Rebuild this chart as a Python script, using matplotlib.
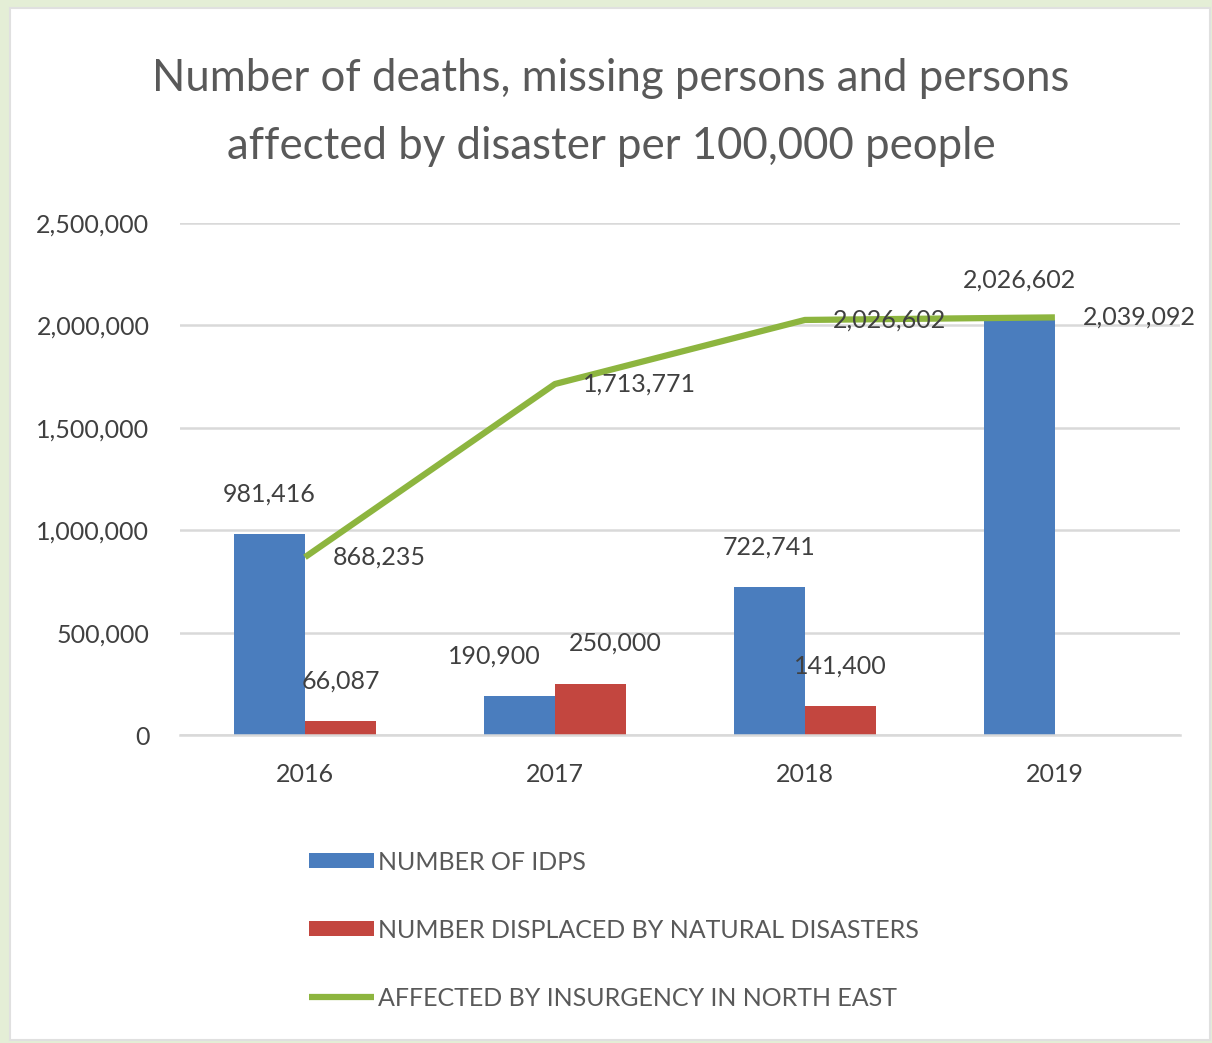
import matplotlib.pyplot as plt
import numpy as np
from matplotlib.patches import Rectangle
from matplotlib.ticker import FuncFormatter

plt.rcParams["font.family"] = ["Lato", "DejaVu Sans"]

years = ["2016", "2017", "2018", "2019"]
idps = [981416, 190900, 722741, 2026602]
natural = [66087, 250000, 141400, 0]
insurgency = [868235, 1713771, 2026602, 2039092]

series_names = [
    "NUMBER OF IDPS",
    "NUMBER DISPLACED BY NATURAL DISASTERS",
    "AFFECTED BY INSURGENCY IN NORTH EAST",
]

BLUE = "#4A7DBE"
RED = "#C3463F"
GREEN = "#8DB53F"
TEXT = "#404040"
GRID = "#D9D9D9"

# horizontal nudges (points) for the crowded 2017 bar labels
idps_dx = [0, -18, 0, 0]
natural_dx = [0, 18, 0]

fig = plt.figure(figsize=(12.12, 10.43), dpi=100, facecolor="#E4EED6")
# white card on the green textured background
fig.patches.append(Rectangle((0.008, 0.003), 0.99, 0.989, transform=fig.transFigure,
                             facecolor="white", edgecolor="#E0E0E0", lw=1.5, zorder=-10))

ax = fig.add_axes([0.1485, 0.2953, 0.825, 0.4909])
ax.set_facecolor("none")

x = np.arange(len(years))
w = 0.285
b1 = ax.bar(x - w / 2, idps, w, color=BLUE, label=series_names[0], zorder=2)
b2 = ax.bar(x[:3] + w / 2, natural[:3], w, color=RED, label=series_names[1], zorder=2)
ln, = ax.plot(x, insurgency, color=GREEN, lw=4.5, label=series_names[2], zorder=3,
              solid_capstyle="butt")

lab_kw = dict(textcoords="offset points", fontsize=18, color=TEXT, zorder=4)
for i, v in enumerate(idps):
    ax.annotate(f"{v:,}", (x[i] - w / 2, v), xytext=(idps_dx[i], 29), ha="center", va="center", **lab_kw)
for i, v in enumerate(natural[:3]):
    ax.annotate(f"{v:,}", (x[i] + w / 2, v), xytext=(natural_dx[i], 29), ha="center", va="center", **lab_kw)
for i, v in enumerate(insurgency):
    ax.annotate(f"{v:,}", (x[i], v), xytext=(20, 0), ha="left", va="center", **lab_kw)

ax.set_xlim(-0.5, 3.5)
ax.set_ylim(0, 2500000)
ax.set_yticks(np.arange(0, 2500001, 500000))
ax.yaxis.set_major_formatter(FuncFormatter(lambda v, p: f"{int(v):,}"))
ax.set_xticks(x)
ax.set_xticklabels(years)
ax.tick_params(axis="both", length=0, labelsize=18, labelcolor=TEXT)
ax.tick_params(axis="y", pad=22)
ax.tick_params(axis="x", pad=20)
ax.grid(axis="y", color=GRID, lw=1.8, zorder=0)
for s in ["top", "right", "left"]:
    ax.spines[s].set_visible(False)
ax.spines["bottom"].set_color(GRID)
ax.spines["bottom"].set_linewidth(1.8)

fig.text(0.504, 0.892, "Number of deaths, missing persons and persons\naffected by disaster per 100,000 people",
         ha="center", va="center", fontsize=31.5, color="#595959", linespacing=1.82)

leg = ax.legend([b1, b2, ln], series_names, loc="upper left", bbox_to_anchor=(0.247, 0.194),
                bbox_transform=fig.transFigure, frameon=False, fontsize=18, handlelength=2.6,
                handleheight=0.55, handletextpad=0.15, labelspacing=1.8, borderaxespad=0)
for t in leg.get_texts():
    t.set_color("#595959")

fig.savefig("out.png", dpi=100, facecolor=fig.get_facecolor())
